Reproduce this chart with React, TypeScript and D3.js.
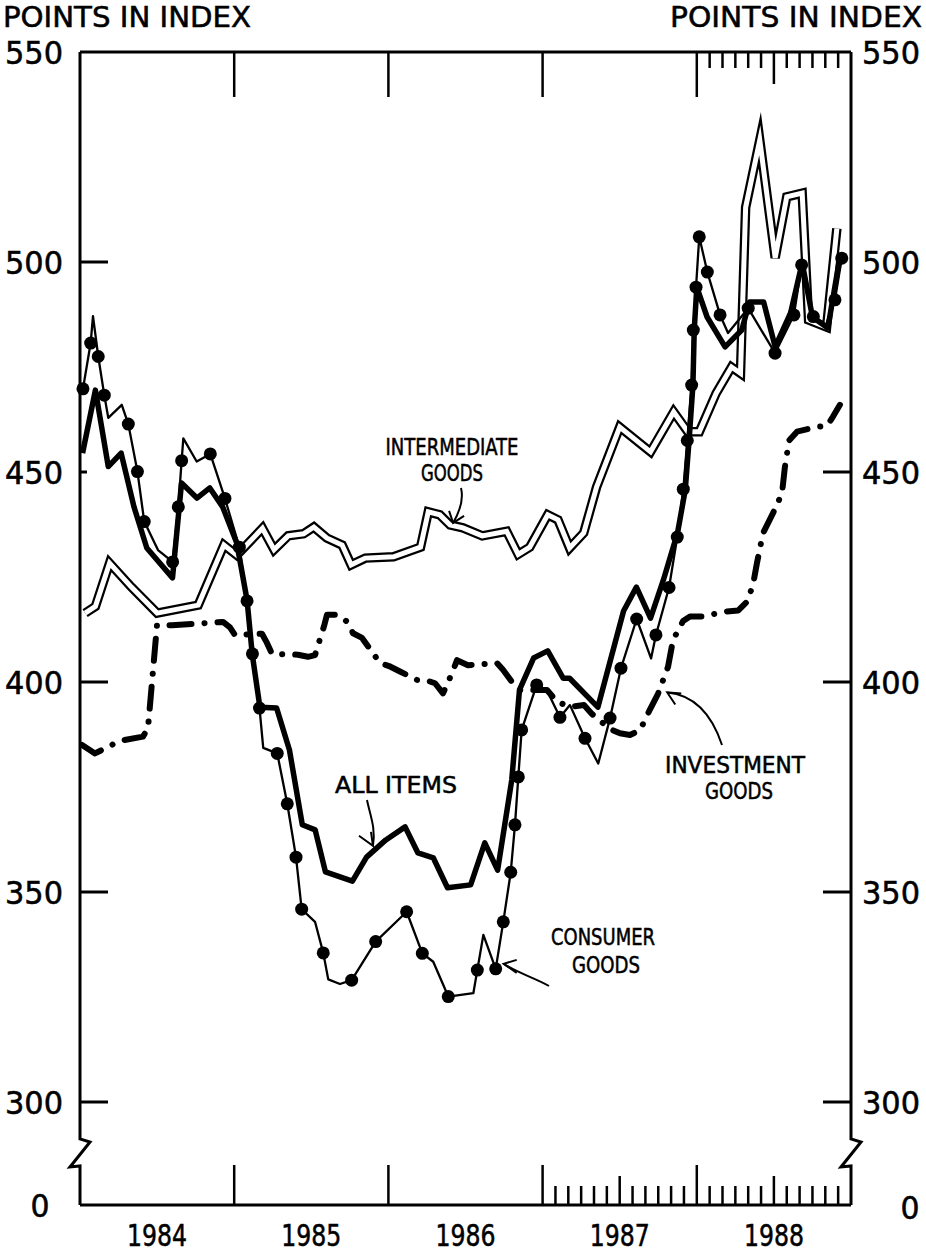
import React from 'react';
import * as d3 from 'd3';

// ---------- DATA (time in months since Jan 1984, value in index points) ----------
const yearLabels = ['1984', '1985', '1986', '1987', '1988'];
const yTickValues = [550, 500, 450, 400, 350, 300];
const leftTickValues = [500, 450, 400, 350, 300];
const rightTickValues = [450, 400, 350, 300];

const intermediateT = [0.4, 1.2, 2.3, 4.0, 6.0, 9.2, 11.2, 12.2, 14.2, 15.1, 16.2, 17.4, 18.2, 19.2, 20.4, 21.1, 22.2, 24.4, 26.5, 27.1, 28.0, 28.8, 29.8, 31.3, 33.2, 34.1, 35.0, 36.4, 37.2, 38.1, 39.2, 40.2, 42.0, 44.4, 46.2, 47.3, 48.2, 49.5, 50.7, 51.4, 51.8, 52.9, 54.1, 55.0, 56.2, 56.7, 58.1, 58.9];
const intermediateV = [416.4, 418, 428.3, 422.6, 416.4, 418.3, 432.6, 430.2, 436.6, 431.5, 434.8, 435.3, 436.9, 434.3, 432.6, 427.9, 429.5, 429.8, 432.1, 440.5, 439.8, 437.4, 436.7, 434.8, 435.9, 430.4, 432.1, 439.8, 438.6, 431.9, 435.5, 446.4, 460.7, 454.8, 464.3, 459.6, 459.6, 468.7, 475, 473.5, 513, 529, 501, 515.5, 516.4, 486.2, 484.5, 508];

const allItemsT = [0.2, 1.2, 2.2, 3.2, 4.2, 5.2, 7.2, 7.9, 9.1, 10.1, 11.1, 12.2, 13.0, 13.4, 14.0, 15.3, 16.3, 17.3, 18.3, 19.1, 21.2, 22.3, 23.8, 25.3, 26.3, 27.5, 28.6, 30.4, 31.5, 32.5, 33.6, 34.2, 35.3, 36.4, 37.6, 38.1, 40.3, 42.3, 43.3, 44.4, 45.4, 46.5, 47.1, 47.4, 47.7, 47.8, 48.0, 48.8, 50.2, 51.5, 52.1, 53.2, 54.1, 55.3, 56.2, 57.0, 58.2, 59.1];
const allItemsV = [454.5, 469.5, 451.3, 454.5, 441.7, 431.9, 424.8, 447.4, 443.8, 446.2, 441.7, 433.1, 419.5, 406.7, 394, 393.8, 383.8, 366, 364.8, 354.8, 352.6, 358.3, 362.4, 365.5, 359.3, 358.1, 351, 351.7, 361.7, 355.2, 376.7, 398.1, 405.7, 407.4, 400.9, 400.9, 394, 416.9, 422.6, 415.2, 424.3, 435.5, 445.7, 457.6, 470.7, 483.8, 494, 486.9, 479.8, 483.8, 490.5, 490.5, 479.8, 487.9, 499.8, 486.9, 484.3, 500.5];

const consumerT = [0.23, 0.83, 1.01, 1.42, 1.89, 2.2, 3.25, 3.76, 4.47, 5.0, 6.07, 7.21, 7.65, 7.91, 8.04, 9.08, 10.14, 11.28, 12.4, 13.0, 13.42, 13.97, 14.26, 15.35, 16.13, 16.81, 17.25, 18.29, 18.93, 19.32, 20.23, 21.14, 23.01, 25.42, 26.64, 27.49, 28.66, 30.61, 30.92, 31.39, 32.35, 32.94, 33.52, 33.85, 34.11, 34.37, 35.54, 36.32, 37.35, 38.13, 39.3, 40.33, 41.25, 42.1, 43.32, 44.44, 44.82, 45.84, 46.48, 46.95, 47.26, 47.6, 47.73, 47.94, 48.19, 48.82, 49.81, 50.43, 52.0, 54.09, 55.56, 56.16, 57.07, 58.05, 58.75, 59.28];
const consumerV = [469.8, 480.7, 487.1, 477.5, 468.3, 462.9, 466, 461.4, 450.1, 438.2, 431.4, 428.6, 441.7, 452.7, 458, 452.5, 454.3, 443.7, 432.1, 419.3, 406.7, 393.8, 384.3, 383, 371, 358.3, 345.9, 342.9, 335.5, 329.2, 328.1, 329, 338.2, 345.3, 335.4, 333.4, 325.1, 325.9, 331.4, 339.8, 331.7, 342.9, 354.7, 366, 377.4, 388.6, 399.3, 398.1, 391.6, 394.5, 386.6, 380.6, 391.4, 403.3, 415, 405.6, 411.2, 422.5, 434.5, 445.9, 457.5, 470.7, 483.8, 494, 506, 497.6, 487.4, 483.1, 489, 478.3, 487.4, 499.3, 487, 485, 491, 500.9];
const consumerMarked = [1, 1, 0, 1, 1, 0, 0, 1, 1, 1, 0, 1, 1, 1, 0, 0, 1, 1, 1, 1, 1, 1, 0, 1, 1, 1, 1, 0, 1, 0, 0, 1, 1, 1, 1, 0, 1, 0, 1, 0, 1, 1, 1, 1, 1, 1, 1, 0, 1, 0, 1, 0, 1, 1, 1, 0, 1, 1, 1, 1, 1, 1, 1, 1, 1, 1, 1, 0, 1, 1, 1, 1, 1, 0, 1, 1];

const investmentT = [0.16, 1.17, 3.11, 4.9, 5.29, 5.99, 7.16, 11.13, 11.67, 12.06, 14.16, 14.55, 14.94, 16.96, 17.74, 18.29, 18.99, 19.22, 20.0, 20.47, 20.78, 21.25, 21.95, 23.35, 24.05, 24.9, 26.23, 26.85, 27.63, 28.25, 28.95, 29.34, 30.19, 32.45, 32.92, 33.62, 34.24, 36.34, 37.12, 38.13, 39.22, 39.84, 41.25, 42.02, 42.8, 43.58, 44.36, 44.98, 45.76, 46.15, 46.93, 47.47, 48.4, 50.35, 51.21, 51.91, 52.37, 52.68, 53.15, 53.93, 54.63, 54.86, 55.18, 55.8, 57.43, 58.13, 58.6, 59.14];
const investmentV = [385, 383, 386, 387, 389, 413.5, 413.5, 414.3, 413, 411.2, 411.5, 409.3, 406.7, 406.5, 406, 406.4, 413.3, 416, 416, 415, 414.4, 411.6, 410.5, 404.5, 403.8, 402.5, 400.5, 400.5, 399.7, 397.3, 402.1, 405.2, 404, 404.5, 402.9, 400, 398.1, 398.1, 395.3, 394.1, 394.5, 392.4, 388.8, 387.8, 387.4, 388.5, 393.5, 397.2, 403.6, 410, 414.5, 415.6, 415.6, 416.8, 417, 419.1, 423.1, 428.3, 435.4, 440.2, 444.9, 451.3, 457.5, 459.6, 460.8, 461, 463.2, 466];

const zip = (t: number[], v: number[]) => t.map((tt, i) => [tt, v[i]] as [number, number]);

const FONT = "'DejaVu Sans Condensed', 'DejaVu Sans', sans-serif";

export default function App() {
  const W = 926, H = 1253;
  const x = d3.scaleLinear().domain([0, 60]).range([80, 851]);
  const y = d3.scaleLinear().domain([300, 550]).range([1102, 52]);
  const yTop = y(550);
  const yZero = 1205;
  const xL = x(0), xR = x(60);

  const line = d3.line<[number, number]>().x(d => x(d[0])).y(d => y(d[1]));

  const interPath = line(zip(intermediateT, intermediateV)) || '';
  const allPath = line(zip(allItemsT, allItemsV)) || '';
  const consPath = line(zip(consumerT, consumerV)) || '';
  const invPath = line(zip(investmentT, investmentV)) || '';

  const frameLeft = `M${xL},${yTop} L${xL},1139 L${xL + 10},1142 L${xL - 10},1167 L${xL},1166 L${xL},${yZero}`;
  const frameRight = `M${xR},${yTop} L${xR},1139 L${xR + 10},1142 L${xR - 10},1167 L${xR},1166 L${xR},${yZero}`;

  const yearTicks = [12, 24, 36, 48];
  const topMinor = d3.range(49, 60);
  const bottomMinor = d3.range(37, 60).filter(m => m !== 48);

  // annotation anchors from data points
  const interTip = [x(intermediateT[21]) + 3, y(intermediateV[21]) - 2];
  const allTip = [x(22.8), y(361)];
  const consTip = [x(consumerT[40]) + 8, y(consumerV[40]) - 5];
  const invTip = [x(45.7), y(397.5)];

  const txt = (s: string, cx: number, by: number, size: number, len: number, anchor: 'middle' | 'start' | 'end' = 'middle', sw = 0.5) => (
    <text x={cx} y={by} fontSize={size} fontFamily={FONT} textAnchor={anchor} textLength={len} lengthAdjust="spacingAndGlyphs" fill="#000" stroke="#000" strokeWidth={sw}>{s}</text>
  );

  return (
    <svg width={W} height={H} viewBox={`0 0 ${W} ${H}`} style={{ position: 'absolute', left: 0, top: 0, background: '#fff' }}>
      <rect x={0} y={0} width={W} height={H} fill="#fff" />
      {/* titles */}
      {txt('POINTS IN INDEX', 3, 27, 28, 248, 'start')}
      {txt('POINTS IN INDEX', 670, 27, 28, 252, 'start')}

      {/* frame */}
      <g stroke="#000" strokeWidth={3} fill="none" strokeLinejoin="miter">
        <line x1={xL} y1={yTop} x2={xR} y2={yTop} />
        <line x1={xL} y1={yZero} x2={xR} y2={yZero} />
        <path d={frameLeft} />
        <path d={frameRight} />
      </g>

      {/* y ticks */}
      <g stroke="#000" strokeWidth={3}>
        {leftTickValues.map(v => (
          <line key={'l' + v} x1={xL} x2={xL + (v === 450 ? 7 : 28)} y1={y(v)} y2={y(v)} />
        ))}
        {rightTickValues.map(v => (
          <line key={'r' + v} x1={xR - 28} x2={xR} y1={y(v)} y2={y(v)} />
        ))}
      </g>

      {/* x ticks */}
      <g stroke="#000" strokeWidth={2.5}>
        {yearTicks.map(m => (
          <line key={'ty' + m} x1={x(m)} x2={x(m)} y1={yTop} y2={yTop + 45} />
        ))}
        {topMinor.map(m => (
          <line key={'tm' + m} x1={x(m)} x2={x(m)} y1={yTop} y2={yTop + (m === 54 ? 32 : 16)} />
        ))}
        {yearTicks.map(m => (
          <line key={'by' + m} x1={x(m)} x2={x(m)} y1={yZero} y2={yZero - 40} />
        ))}
        {bottomMinor.map(m => (
          <line key={'bm' + m} x1={x(m)} x2={x(m)} y1={yZero} y2={yZero - (m === 42 || m === 54 ? 29 : 19)} />
        ))}
      </g>

      {/* y labels */}
      {yTickValues.map(v => (
        <g key={'yl' + v}>
          {txt(String(v), 63, y(v) + 12, 32, 58, 'end')}
          {txt(String(v), 862, y(v) + 12, 32, 58, 'start')}
        </g>
      ))}
      {txt('0', 40, yZero + 12, 32, 19, 'middle')}
      {txt('0', 910, yZero + 14, 32, 19, 'middle')}

      {/* year labels */}
      {yearLabels.map((lab, i) => (
        <g key={'yr' + lab}>{txt(lab, x(i * 12 + 6), 1246, 30, 60, 'middle')}</g>
      ))}

      {/* series */}
      <path d={interPath} fill="none" stroke="#000" strokeWidth={9.5} strokeLinejoin="miter" strokeMiterlimit={6} />
      <path d={interPath} fill="none" stroke="#fff" strokeWidth={5} strokeLinejoin="miter" strokeMiterlimit={6} />

      <path d={invPath} fill="none" stroke="#000" strokeWidth={6} strokeLinecap="round" strokeLinejoin="round" strokeDasharray="22 13 0.1 13" />

      <path d={allPath} fill="none" stroke="#000" strokeWidth={5.5} strokeLinejoin="round" />

      <path d={consPath} fill="none" stroke="#000" strokeWidth={2.3} strokeLinejoin="round" />
      {consumerT.map((t, i) => consumerMarked[i] ? (
        <circle key={'c' + i} cx={x(t)} cy={y(consumerV[i])} r={6.5} fill="#000" />
      ) : null)}

      {/* annotations */}
      {txt('INTERMEDIATE', 452, 455, 23, 133)}
      {txt('GOODS', 452, 481, 23, 62)}
      <g fill="none" stroke="#000" strokeWidth={2}>
        <path d={`M461,488 C464,500 460,511 ${interTip[0]},${interTip[1]}`} />
        <path d={`M${interTip[0] - 4},${interTip[1] - 12} L${interTip[0]},${interTip[1]} L${interTip[0] + 11},${interTip[1] - 7}`} />
      </g>

      {txt('ALL ITEMS', 396, 793, 23, 122)}
      <g fill="none" stroke="#000" strokeWidth={2}>
        <path d={`M367,800 C370,815 376,828 ${allTip[0]},${allTip[1]}`} />
        <path d={`M${allTip[0] - 14},${allTip[1] - 10} L${allTip[0]},${allTip[1]} L${allTip[0] - 2},${allTip[1] - 14}`} />
      </g>

      {txt('CONSUMER', 603, 945, 23, 104)}
      {txt('GOODS', 606, 973, 23, 68)}
      <g fill="none" stroke="#000" strokeWidth={2}>
        <path d={`M549,986 C535,978 520,974 ${consTip[0]},${consTip[1]}`} />
        <path d={`M${consTip[0] + 13},${consTip[1] - 4} L${consTip[0]},${consTip[1]} L${consTip[0] + 13},${consTip[1] + 9}`} />
      </g>

      {txt('INVESTMENT', 735, 773, 23, 140)}
      {txt('GOODS', 739, 799, 23, 68)}
      <g fill="none" stroke="#000" strokeWidth={2}>
        <path d={`M722,745 C712,715 695,695 ${invTip[0]},${invTip[1]}`} />
        <path d={`M${invTip[0] + 14},${invTip[1] + 1} L${invTip[0]},${invTip[1]} L${invTip[0] + 8},${invTip[1] + 12}`} />
      </g>
    </svg>
  );
}
